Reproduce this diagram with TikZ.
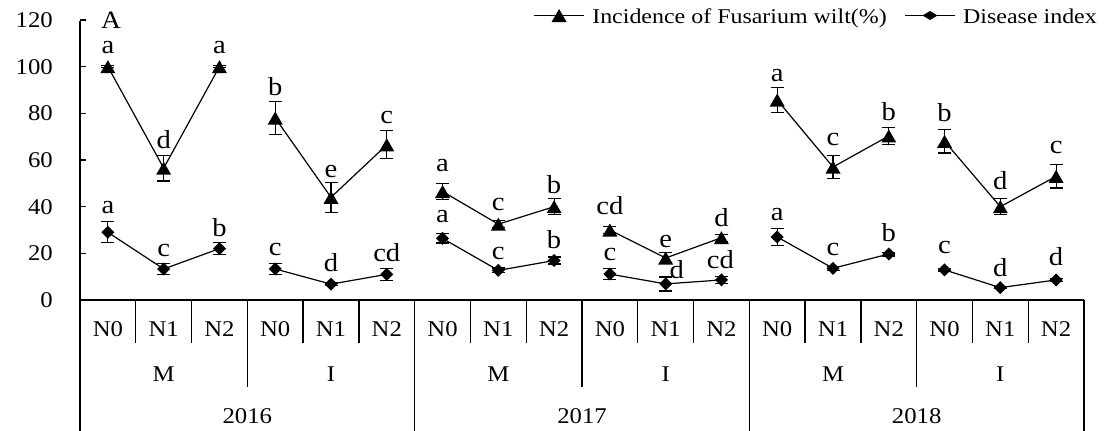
\documentclass[tikz,border=0pt]{standalone}
\usepackage{fontspec}
\setmainfont{Liberation Serif}[FakeStretch=1.1]
\newfontfamily\legfont{Liberation Serif}[FakeStretch=1.14]
\usetikzlibrary{calc}
\begin{document}
\begin{tikzpicture}[x=1pt,y=-1pt,
  axisline/.style={line width=1.4pt, black},
  seriesline/.style={line width=1.2pt, black},
  errbar/.style={line width=1.2pt, black},
  lab/.style={font=\fontsize{22.5}{27}\selectfont, inner sep=0pt, anchor=base},
  ticklab/.style={font=\fontsize{22.5}{27}\selectfont, inner sep=0pt},
  letlab/.style={font=\fontsize{26}{30}\selectfont, inner sep=0pt, anchor=base},
  leglab/.style={font=\legfont\fontsize{21}{25}\selectfont, inner sep=0pt},
]
\useasboundingbox (0,0) rectangle (1117,431);
\fill[white] (0,0) rectangle (1117,431);

% data: index/value/error/label/label baseline/label x shift
\def\inclist{0/100/0.5/a/53.3/0, 1/56.5/5.5/d/148/0, 2/100/0.5/a/53.3/0,
 3/78/7/b/95/0, 4/44/6.5/e/177/0, 5/66.5/6/c/123/0,
 6/46.5/3.5/a/171.7/0, 7/32.5/1.5/c/210/0, 8/40/3.5/b/193.3/0,
 9/30/1.5/cd/214/0, 10/18/2.5/e/247/0, 11/26.7/1.5/d/226.7/0,
 12/85.7/5.5/a/81.7/0, 13/57/5/c/145/0, 14/70.3/3.5/b/120.7/0,
 15/68/5/b/121.7/0, 16/40/3.5/d/189/0, 17/53/5/c/153.3/0}
\def\dislist{0/29/4.5/a/213.3/0, 1/13.3/2.5/c/256/0, 2/22/2.5/b/236.7/0,
 3/13.3/2.5/c/255/0, 4/6.8/0.5/d/271.7/0, 5/11/2.5/cd/261/0,
 6/26.4/2/a/222.7/0, 7/12.7/1/c/259.3/0, 8/16.9/1.5/b/248.3/0,
 9/11.1/2.4/c/260/0, 10/6.9/3/d/278/11, 11/8.6/1.5/cd/268.3/-1,
 12/27/3.8/a/220/0, 13/13.6/0.8/c/255/0, 14/19.7/0.8/b/241/0,
 15/12.9/0.5/c/253.3/0, 16/5.3/0.5/d/276/0, 17/8.6/0.5/d/265/0}

% coordinates
\foreach \i/\v/\e/\l/\b/\dx in \inclist {
  \pgfmathsetmacro\px{80+55.7778*(\i+0.5)}
  \pgfmathsetmacro\py{300-2.33333*\v}
  \coordinate (t\i) at (\px,\py);
}
\foreach \i/\v/\e/\l/\b/\dx in \dislist {
  \pgfmathsetmacro\px{80+55.7778*(\i+0.5)}
  \pgfmathsetmacro\py{300-2.33333*\v}
  \coordinate (d\i) at (\px,\py);
}

% axes
\draw[axisline] (80,21) -- (80,431);
\draw[axisline] (80,300) -- (1084,300);
\foreach \v in {0,20,...,120} {
  \pgfmathsetmacro\ty{300-2.33333*\v}
  \draw[axisline] (80,\ty) -- (86,\ty);
  \node[ticklab, anchor=east] (yl\v) at (53,\ty) {\v};
}
\foreach \k in {1,...,18} {
  \pgfmathsetmacro\sx{80+55.7778*\k}
  \pgfmathtruncatemacro\msix{mod(\k,6)}
  \pgfmathtruncatemacro\mthree{mod(\k,3)}
  \ifnum\msix=0
    \draw[axisline] (\sx,300) -- (\sx,431);
  \else\ifnum\mthree=0
    \draw[axisline] (\sx,300) -- (\sx,387);
  \else
    \draw[axisline] (\sx,300) -- (\sx,343);
  \fi\fi
}
% category labels
\foreach \k in {0,...,17} {
  \pgfmathsetmacro\cx{80+55.7778*(\k+0.5)}
  \pgfmathtruncatemacro\nn{mod(\k,3)}
  \node[lab] (nl\k) at (\cx,336.7) {N\nn};
}
\foreach \g/\t in {0/M,1/I,2/M,3/I,4/M,5/I} {
  \pgfmathsetmacro\cx{80+55.7778*(3*\g+1.5)}
  \node[lab] (gl\g) at (\cx,381.7) {\t};
}
\foreach \g/\t in {0/2016,1/2017,2/2018} {
  \pgfmathsetmacro\cx{80+55.7778*(6*\g+3)}
  \node[lab] (yr\g) at (\cx,423) {\t};
}

% series lines
\foreach \g in {0,3,6,9,12,15} {
  \pgfmathtruncatemacro\ga{\g+1}
  \pgfmathtruncatemacro\gb{\g+2}
  \draw[seriesline] (t\g) -- (t\ga) -- (t\gb);
  \draw[seriesline] (d\g) -- (d\ga) -- (d\gb);
}

% error bars, markers, labels
\foreach \i/\v/\e/\l/\b/\dx in \inclist {
  \pgfmathsetmacro\pe{2.33333*\e}
  \draw[errbar] ($(t\i)+(0,-\pe)$) -- ($(t\i)+(0,\pe)$);
  \draw[errbar] ($(t\i)+(-6.5,-\pe)$) -- ($(t\i)+(6.5,-\pe)$);
  \draw[errbar] ($(t\i)+(-6.5,\pe)$) -- ($(t\i)+(6.5,\pe)$);
  \fill (t\i) ++(-7.5,6.5) -- ++(15,0) -- ++(-7.5,-13) -- cycle;
  \node[letlab] (tl\i) at ($(t\i|-0,\b)+(\dx,0)$) {\l};
}
\foreach \i/\v/\e/\l/\b/\dx in \dislist {
  \pgfmathsetmacro\pe{2.33333*\e}
  \draw[errbar] ($(d\i)+(0,-\pe)$) -- ($(d\i)+(0,\pe)$);
  \draw[errbar] ($(d\i)+(-6.5,-\pe)$) -- ($(d\i)+(6.5,-\pe)$);
  \draw[errbar] ($(d\i)+(-6.5,\pe)$) -- ($(d\i)+(6.5,\pe)$);
  \fill (d\i) ++(-6.5,0) -- ++(6.5,-6.5) -- ++(6.5,6.5) -- ++(-6.5,6.5) -- cycle;
  \node[letlab] (dl\i) at ($(d\i|-0,\b)+(\dx,0)$) {\l};
}

% panel letter
\node[font=\fontsize{25}{29}\selectfont, inner sep=0pt, anchor=base west] (panel) at (101,28.3) {A};

% legend
\node[leglab, anchor=base east] (legI) at (887,23.3) {Incidence of Fusarium wilt(\%)};
\node[leglab, anchor=base west] (legD) at (963,23.3) {Disease index};
\coordinate (liB) at ($(legI.base west)+(-8,-7.8)$);
\coordinate (liA) at ($(liB)+(-50,0)$);
\coordinate (liM) at ($(liB)+(-25,0)$);
\draw[seriesline] (liA) -- (liB);
\fill (liM) ++(-7.5,6.5) -- ++(15,0) -- ++(-7.5,-13) -- cycle;
\coordinate (ldB) at ($(legD.base west)+(-8,-7.8)$);
\coordinate (ldA) at ($(ldB)+(-50,0)$);
\coordinate (ldM) at ($(ldB)+(-25,0)$);
\draw[seriesline] (ldA) -- (ldB);
\fill (ldM) ++(-7.5,0) -- ++(7.5,-4.5) -- ++(7.5,4.5) -- ++(-7.5,4.5) -- cycle;
\end{tikzpicture}
\end{document}
